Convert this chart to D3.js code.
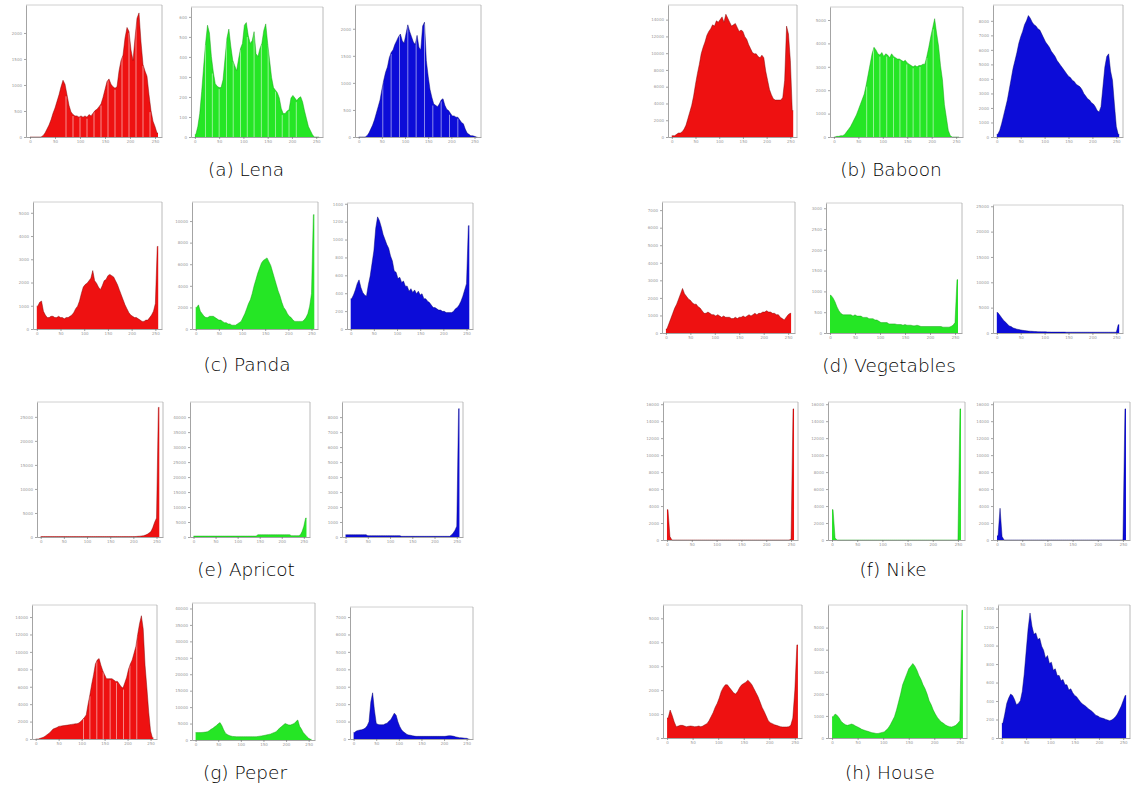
<!DOCTYPE html>
<html lang="en">
<head>
<meta charset="UTF-8">
<title>RGB histograms of test images</title>
<script src="https://cdn.jsdelivr.net/npm/d3@7/dist/d3.min.js"></script>
<style>
body {
    margin: 0;
    background: #fff;
}
svg {
    display: block;
}
.caption {
    font-family: "DejaVu Sans", sans-serif;
    font-weight: 200;
    font-size: 18.5px;
    fill: #000;
    text-anchor: middle;
}
.axis text {
    font-family: "DejaVu Sans", sans-serif;
    font-size: 4px;
    fill: #999;
}
.axis path, .axis line {
    stroke: #666;
    stroke-width: 0.6px;
}
</style>
</head>
<body>
<svg id="chart" width="1133" height="787"></svg>

<script>
// Images and channels
const images = ["Lena", "Baboon", "Panda", "Vegetables", "Apricot", "Nike", "Peper", "House"];
const letters = ["a", "b", "c", "d", "e", "f", "g", "h"];
const channels = ["red", "green", "blue"];
const xTicks = [0, 50, 100, 150, 200, 250];

// Histograms: 64 bins over 0..255, height read as % of the axis height
const lenaR = [0,0,0,0,0,0,1,3,6,9, 13,18,22,27,32,38,43,40,32,24, 19,17,16,16,15,16,15,16,15,17,
    16,18,20,21,23,25,30,36,42,44, 40,38,37,38,50,58,62,75,83,80, 66,58,75,90,94,72,55,50,46,32, 20,12,8,3];
const lenaG = [2,8,18,35,54,72,86,80,62,50, 41,39,38,38,44,60,76,83,70,59, 55,51,60,68,72,86,88,78,72,74,
    81,64,62,68,72,82,87,72,59,46, 38,36,34,30,22,18,18,20,21,30, 32,30,28,30,31,27,20,14,8,5, 2,0,0,0];
const lenaB = [0,0,0,0,1,3,6,9,13,18, 23,28,36,43,49,53,60,64,66,70, 73,76,78,73,71,78,85,80,76,72,
    70,77,68,66,84,87,58,46,36,30, 25,24,23,25,28,29,24,21,20,18, 16,16,15,15,13,11,10,6,3,2, 1,1,0.5,0];

const baboonR = [1,1,2,3,3,4,6,9,14,19, 24,31,40,48,55,63,68,72,77,80, 82,85,84,88,87,89,91,87,93,90,
    87,84,85,86,83,80,81,80,76,74, 70,67,64,63,63,61,60,62,60,50, 43,36,32,29,28,28,28,28,30,43, 84,78,58,20];
const baboonG = [0,0.5,0.5,1,1,2,4,6,8,11, 14,17,21,25,29,33,40,48,56,64, 69,67,64,63,65,62,64,63,61,64,
    62,61,60,60,59,58,59,57,56,55, 54,55,54,55,55,56,56,62,69,77, 84,91,80,70,55,44,25,15,5,1, 0,0,0,0];
const baboonB = [2,5,10,16,22,28,36,44,52,58, 64,71,76,80,85,88,92,90,87,85, 84,82,81,78,75,72,70,68,65,63,
    61,58,56,54,52,50,48,46,45,43, 42,40,39,38,36,33,31,29,28,26, 25,23,20,19,23,38,53,61,63,50, 43,25,8,2];

const pandaR = [18,21,22,14,11,9,9,10,10,9, 9,10,9,9,8,9,9,10,11,13, 16,18,22,28,33,35,36,38,40,46,
    38,36,33,31,34,38,39,42,43,42, 41,38,35,31,27,23,19,16,13,11, 10,9,9,8,7,6,6,7,7,9, 11,14,20,65];
const pandaG = [17,19,14,12,10,9,9,10,10,10, 9,8,7,7,6,5,5,4,4,3, 3,3,4,5,6,9,12,16,20,23,
    28,34,39,44,48,52,54,55,56,53, 50,45,40,35,30,26,21,17,15,12, 10,9,7,6,6,6,6,6,7,9, 12,18,28,90];
const pandaB = [24,27,31,36,39,33,29,27,26,35, 42,52,62,80,89,86,81,75,71,67, 64,58,54,46,45,40,41,37,38,34,
    34,30,32,29,31,28,30,27,28,24, 24,22,21,19,17,17,16,15,15,14, 14,13,13,13,13,14,16,17,19,22, 26,31,36,82];

const vegR = [3,7,11,15,19,22,26,30,34,30, 28,26,25,23,22,22,20,19,17,15, 15,16,15,14,14,13,14,13,12,13,
    12,12,12,11,11,12,11,12,12,13, 12,13,14,13,14,15,14,15,15,16, 16,17,16,16,15,15,14,14,12,11, 10,12,14,15];
const vegG = [29,27,24,20,17,15,14,14,14,14, 14,13,14,13,13,13,12,12,12,11, 11,11,10,10,9,8,8,8,8,7,
    7,7,7,6.5,6.5,6.5,6,6.5,6,6, 6,5.5,5.5,6,5.5,5,5,5,5,5, 5,5,5,5,5,5,4.5,4.5,4.5,4.5, 5,6,8,41];
const vegB = [16,14,12,10,8.5,7,5.5,5,4,3.5, 3,2.7,2.4,2.1,1.9,1.7,1.5,1.4,1.3,1.2, 1.1,1,1,0.9,0.9,0.9,0.8,0.8,0.7,0.7,
    0.7,0.7,0.7,0.7,0.7,0.7,0.6,0.6,0.6,0.6, 0.6,0.6,0.6,0.6,0.6,0.6,0.6,0.6,0.6,0.6,
    0.6,0.6,0.6,0.6,0.6,0.6,0.6,0.6,0.6,0.6, 0.6,0.6,0.6,6.5];

const apricotR = [0.3,0.3,0.3,0.3,0.3,0.3,0.3,0.3,0.3,0.3, 0.3,0.3,0.3,0.3,0.3,0.3,0.3,0.3,0.3,0.3,
    0.3,0.3,0.3,0.3,0.3,0.3,0.3,0.3,0.3,0.3, 0.3,0.3,0.3,0.3,0.3,0.3,0.3,0.3,0.3,0.3,
    0.3,0.3,0.3,0.3,0.3,0.3,0.3,0.3,0.3,0.3, 0.3,0.4,0.5,0.6,0.8,1,1.4,2,3,4, 7,11,14,96];
const apricotG = [0.7,0.7,0.7,0.7,0.7,0.7,0.7,0.7,0.7,0.7, 0.7,0.7,0.7,0.7,0.7,0.7,0.7,0.7,0.7,0.7,
    0.7,0.7,0.7,0.7,0.7,0.7,0.7,0.7,0.7,0.7, 0.7,0.7,0.7,0.7,0.7,0.7,1.7,1.7,1.7,1.7,
    1.7,1.7,1.7,1.7,1.7,1.7,1.7,1.7,1.7,1.7, 1.7,1.7,1.7,1.7,1.7,1,1,1,1,1, 1.5,4,8,14];
const apricotB = [1.7,1.7,1.7,1.7,1.7,1.7,1.7,1.7,1.7,1.7, 1.7,1.7,1,1,1,1,1,1,1,1,
    1,1,1,1,1,1,1,1,1,1, 1,0.5,0.5,0.5,0.5,0.5,0.5,0.5,0.5,0.5,
    0.5,0.5,0.5,0.5,0.5,0.5,0.5,0.5,0.5,0.5, 0.5,0.5,0.5,0.5,0.5,0.5,0.5,0.5,0.5,1.5, 3,5,8,95];

const nikeR = [22,2.5,0,0,0,0,0,0,0,0, 0,0,0,0,0,0,0,0,0,0, 0,0,0,0,0,0,0,0,0,0,
    0,0,0,0,0,0,0,0,0,0, 0,0,0,0,0,0,0,0,0,0, 0,0,0,0,0,0,0,0,0,0, 0,0,0.5,95];
const nikeG = [22,1.5,0,0,0,0,0,0,0,0, 0,0,0,0,0,0,0,0,0,0, 0,0,0,0,0,0,0,0,0,0,
    0,0,0,0,0,0,0,0,0,0, 0,0,0,0,0,0,0,0,0,0, 0,0,0,0,0,0,0,0,0,0, 0,0,0,95];
const nikeB = [3,23,2.5,0,0,0,0,0,0,0, 0,0,0,0,0,0,0,0,0,0, 0,0,0,0,0,0,0,0,0,0,
    0,0,0,0,0,0,0,0,0,0, 0,0,0,0,0,0,0,0,0,0, 0,0,0,0,0,0,0,0,0,0, 0,0,0,95];

const peperR = [0,0,0.5,1,1.5,2.5,3.5,4.5,6,7.5, 8,8.5,9.4,9.6,9.8,10,10.2,10.4,10.7,10.9, 11.1,11.3,11.4,12,13,14.5,16,18,26,33,
    41,48,56,59,60,55,51,48,45,45, 45,45,44,43,43,41,39,38,42,46, 52,56,59,64,69,78,86,92,82,55, 38,20,6,1];
const peperG = [5.4,5.4,5.4,5.5,5.6,5.8,6,6.8,7.8,8.5, 9.6,10.6,11.8,12.7,10.5,7.5,5,4,3.3,2.9,
    2.6,2.5,2.4,2.4,2.4,2.4,2.4,2.4,2.4,2.4, 2.4,2.4,2.4,2.4,2.6,2.8,3,3.2,3.5,3.8,
    4.1,4.4,5,5.5,6,7.5,8.7,9.8,11,12, 11.5,11,11,11.5,12,13.5,14.6,10,8,5.5, 4,2.5,1.2,0.5];
const peperB = [5,6,6.5,6.8,7,7.5,8.3,10,13,28, 35,22,12,11,10.8,10.8,10.8,11.5,12,13.5, 14.6,17,19.6,18,13,9.5,7,5.5,4.5,3.5,
    3,2.8,2.5,2.2,2,2,2,2,2,2, 2,2,2,2,2,2,2,2,2,2, 2,2.2,2.4,2.5,2.3,2,1.6,1.3,1,0.9, 0.8,0.6,0.5,0];

const houseR = [15,21,17,12,8.5,9,9.5,9.5,9,8.5, 8.8,9,8.8,8.5,8.6,9,8.5,9,10,10.8, 13,16,19,23,26,30,35,38,40,40,
    38,36,34,33,35,38,40,41,42,43.5, 42,40,37,34,31,27,23,20,16.5,13, 11.5,10.8,10,9.5,9,8.5,8.3,8.3,8.3,8.5, 9.5,15,36,70];
const houseG = [16,18,17,15,12.5,11,10,9.5,10,10.5, 10,9,8.3,7.5,6.5,6,5.5,5,4.5,4, 3.8,3.4,3.4,3.8,4.2,4.6,6,7.5,10,13,
    16,21,27,33,40,44,48,52,54,56, 54,51,47,44,40,37,33,28,25,21, 18,15.5,13.5,12,11,9.8,9,8.5,8.3,8.8, 9.5,11,13,96];
const houseB = [11,18,26,30,33,32,29,25,26,28, 35,48,65,82,94,84,78,79,74,75, 69,66,60,62,56,57,51,52,47,47,
    43,44,40,40,36,37,34,32,31,29, 27,25.5,24.6,23.5,22,21,20,18.5,17,16.5, 15.5,15,14.6,14,13.5,13,13.5,14.5,16,18, 21,24,28,32];

// Empty bins (white stripes) in a few histograms, as intensity values
const lenaRGaps = [72, 86, 100, 114, 128, 142, 156, 170, 184, 198, 212, 226, 240];
const lenaGGaps = [22, 36, 50, 65, 79, 94, 108, 122, 137, 151, 166, 180, 194, 209];
const lenaBGaps = [52, 70, 88, 106, 124, 142, 160, 178, 196, 214];
const baboonGGaps = [67, 81, 94, 108, 122, 135, 149, 162, 176, 190, 203];
const peperRGaps = [104, 118, 133, 147, 162, 176, 191, 205, 220];

// Y axis ticks: spacing (% of axis), number of ticks, count per tick
const yTickStep = [[19.7, 15.4, 20.5], [12.7, 18, 11], [18.3, 17, 14.2], [13.4, 16, 19.8],
    [17.8, 11.1, 11.1], [12.3, 12.3, 12.3], [13, 12, 13.2], [18, 16.6, 13.9]];
const yTickCount = [[5, 7, 5], [8, 6, 9], [6, 6, 8], [8, 7, 6], [6, 9, 9], [9, 9, 9], [8, 9, 8], [6, 6, 8]];
const yTickUnit = [[500, 100, 500], [2000, 1000, 1000], [1000, 2000, 200], [1000, 500, 5000],
    [5000, 5000, 1000], [2000, 2000, 2000], [2000, 5000, 1000], [1000, 1000, 200]];

const histograms = [
    [lenaR, lenaG, lenaB], [baboonR, baboonG, baboonB], [pandaR, pandaG, pandaB], [vegR, vegG, vegB],
    [apricotR, apricotG, apricotB], [nikeR, nikeG, nikeB], [peperR, peperG, peperB], [houseR, houseG, houseB]
];
const gaps = [[lenaRGaps, lenaGGaps, lenaBGaps], [null, baboonGGaps, null], [], [], [], [], [peperRGaps, null, null], []];

// Layout: [left, right, top, baseline] of each plot, caption anchor
const panelBoxes = [
    [[26, 162, 5, 137], [191, 323, 7, 137], [355, 481, 5, 137]],
    [[668, 797, 5, 137], [830, 963, 7, 137], [993, 1123, 5, 137]],
    [[33, 162, 202, 329], [192, 318, 202, 329], [347, 473, 203, 329]],
    [[662, 795, 202, 333], [826, 962, 203, 333], [993, 1123, 205, 333]],
    [[37, 163, 402, 537], [190, 310, 402, 537], [342, 463, 402, 537]],
    [[663, 798, 402, 540], [828, 965, 402, 540], [993, 1130, 402, 540]],
    [[32, 157, 605, 739], [192, 315, 603, 740], [350, 473, 607, 739]],
    [[663, 802, 605, 738], [828, 967, 605, 738], [998, 1130, 605, 738]]
];
const captionAt = [[246, 176], [891, 176], [247, 371], [889, 372], [246, 576], [893, 576], [245, 779], [890, 779]];

const fillColor = { red: "#ee1111", green: "#25e625", blue: "#0c0cd8" };
const edgeColor = { red: "#7a0000", green: "#139a13", blue: "#00006e" };
const binWidth = 4;

const svg = d3.select("#chart");

histograms.forEach((set, k) => {
    set.forEach((bins, c) => {
        drawPanel(svg.append("g"), bins, panelBoxes[k][c], channels[c],
            yTickStep[k][c], yTickCount[k][c], yTickUnit[k][c], gaps[k][c]);
    });
    svg.append("text")
        .attr("class", "caption")
        .attr("x", captionAt[k][0])
        .attr("y", captionAt[k][1])
        .text(`(${letters[k]}) ${images[k]}`);
});

function drawPanel(g, bins, box, ch, step, count, unit, gapList) {
    const [L, R, T, B] = box;
    const x = d3.scaleLinear().domain([-8, 264]).range([L, R]);
    const y = d3.scaleLinear().domain([0, 100]).range([B, T]);

    // bin centres, held flat to both ends of the 0..256 range
    const pts = bins.map((v, i) => ({ x: i * binWidth + binWidth / 2, v }));
    pts.unshift({ x: 0, v: bins[0] });
    pts.push({ x: bins.length * binWidth, v: bins[bins.length - 1] });

    const area = d3.area().x(d => x(d.x)).y0(B).y1(d => y(d.v));
    const line = d3.line().x(d => x(d.x)).y(d => y(d.v));

    // frame
    g.append("line").attr("x1", L).attr("x2", R).attr("y1", T).attr("y2", T)
        .attr("stroke", "#c4c4c4").attr("stroke-width", 0.8);
    g.append("line").attr("x1", R).attr("x2", R).attr("y1", T).attr("y2", B)
        .attr("stroke", "#a8a8a8").attr("stroke-width", 0.8);

    g.append("path").attr("d", area(pts)).attr("fill", fillColor[ch]);

    // empty bins show as pale stripes
    if (gapList) {
        g.selectAll(".gap").data(gapList).enter().append("line")
            .attr("class", "gap")
            .attr("x1", d => x(d)).attr("x2", d => x(d))
            .attr("y1", B)
            .attr("y2", d => y(bins[Math.floor(d / binWidth)]) + 1.5)
            .attr("stroke", "#fff").attr("stroke-width", 0.8).attr("opacity", 0.65);
    }

    g.append("path").attr("d", line(pts))
        .attr("fill", "none").attr("stroke", edgeColor[ch])
        .attr("stroke-width", 0.6).attr("opacity", 0.75);

    // axes
    const yTicks = d3.range(count).map(i => i * step);
    g.append("g").attr("class", "axis")
        .attr("transform", `translate(${L},0)`)
        .call(d3.axisLeft(y).tickValues(yTicks).tickFormat((d, i) => i * unit)
            .tickSize(2).tickSizeOuter(0).tickPadding(2));
    g.append("g").attr("class", "axis")
        .attr("transform", `translate(0,${B})`)
        .call(d3.axisBottom(x).tickValues(xTicks).tickSize(2).tickSizeOuter(0).tickPadding(1.5));
}
</script>
</body>
</html>
